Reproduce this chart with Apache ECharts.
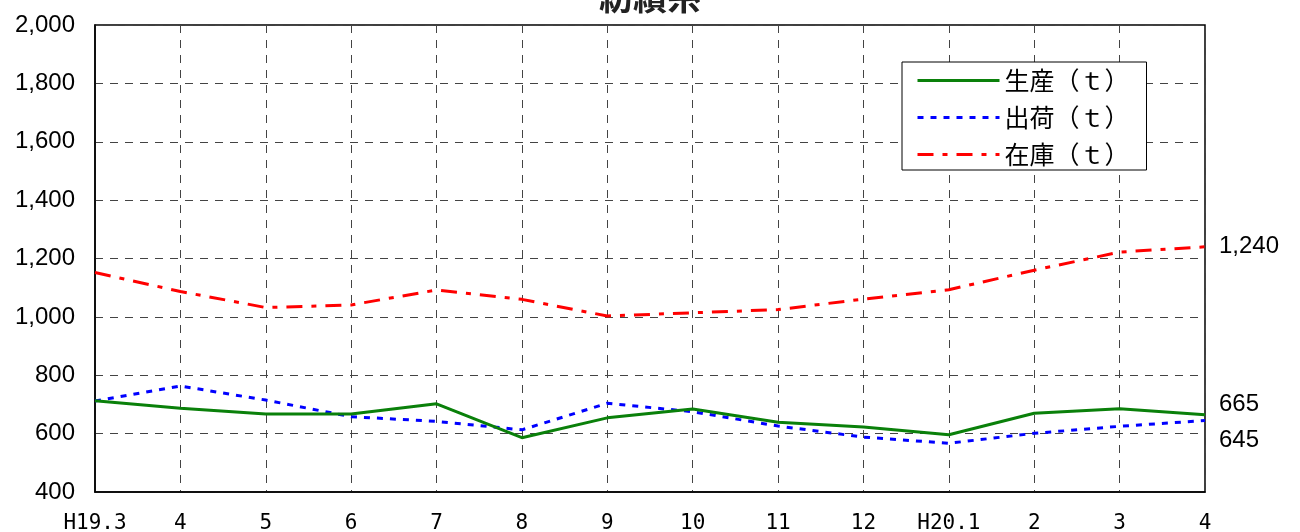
<!DOCTYPE html>
<html>
<head>
<meta charset="utf-8">
<script src="https://cdn.jsdelivr.net/npm/echarts@6/dist/echarts.min.js"></script>
<style>
html,body{margin:0;padding:0;background:#fff;}
#c{width:1300px;height:532px;}
</style>
</head>
<body>
<div id="c"></div>
<script>
var categories = ['H19.3','4','5','6','7','8','9','10','11','12','H20.1','2','3','4'];
var production = [713, 687, 667, 667, 702, 586, 654, 684, 639, 623, 596, 670, 685, 665];
var shipment   = [712, 763, 715, 658, 642, 613, 704, 675, 626, 588, 567, 601, 625, 645];
var inventory  = [1152, 1087, 1032, 1041, 1092, 1060, 1003, 1014, 1025, 1061, 1093, 1160, 1222, 1240];
var seriesNames = ['生産（ｔ）','出荷（ｔ）','在庫（ｔ）'];
var titleText = '紡績糸';

function fmt(v){ return v.toLocaleString('en-US'); }

var chart = echarts.init(document.getElementById('c'));
var endLbl = function(dy){
  return {show:true, formatter:function(p){return fmt(p.value);}, offset:[6,dy],
    color:'#000', fontSize:24, fontFamily:'Liberation Sans, Arial, sans-serif'};
};
chart.setOption({
  animation:false,
  backgroundColor:'#fff',
  title:{text:titleText, left:'center', top:-25,
    textStyle:{fontSize:34, fontWeight:'bold', color:'#222', fontFamily:'Noto Sans CJK JP'}},
  grid:{left:95, right:95, top:25, bottom:40, containLabel:false, outerBoundsMode:'none',
    show:true, borderColor:'#000', borderWidth:1.5, backgroundColor:'transparent'},
  legend:{
    orient:'vertical', left:902, top:62,
    backgroundColor:'#fff', borderColor:'#000', borderWidth:1,
    padding:[6,17,3,14], itemGap:12, itemWidth:82, itemHeight:14,
    itemStyle:{opacity:0},
    lineStyle:{width:3},
    textStyle:{fontSize:25, color:'#000', fontFamily:'Noto Sans CJK JP', padding:[0,0,0,0]},
    data:seriesNames
  },
  xAxis:{
    type:'category', data:categories, boundaryGap:false,
    axisLine:{show:true, lineStyle:{color:'#000', width:1.5}},
    axisTick:{show:false},
    axisLabel:{color:'#000', fontSize:21, margin:21, fontFamily:'DejaVu Sans Mono, monospace', interval:0},
    splitLine:{show:true, lineStyle:{color:'#444', type:[8,7], width:1}}
  },
  yAxis:{
    type:'value', min:400, max:2000, interval:200,
    axisLine:{show:true, lineStyle:{color:'#000', width:1.5}},
    axisTick:{show:false},
    axisLabel:{color:'#000', fontSize:24, margin:20, fontFamily:'Liberation Sans, Arial, sans-serif', formatter:function(v){return fmt(v);}},
    splitLine:{show:true, lineStyle:{color:'#444', type:[8,7], width:1}}
  },
  series:[
    {name:seriesNames[0], type:'line', data:production, symbol:'none', z:3,
      lineStyle:{color:'#0a800a', width:3, type:'solid'}, itemStyle:{color:'#0a800a'},
      endLabel:endLbl(-10)},
    {name:seriesNames[1], type:'line', data:shipment, symbol:'none', z:2,
      lineStyle:{color:'#0000ff', width:3, type:[6,7]}, itemStyle:{color:'#0000ff'},
      endLabel:endLbl(20)},
    {name:seriesNames[2], type:'line', data:inventory, symbol:'none', z:2,
      lineStyle:{color:'#ff0000', width:3, type:[16,9,5,9]}, itemStyle:{color:'#ff0000'},
      endLabel:endLbl(0)}
  ]
});
</script>
</body>
</html>
